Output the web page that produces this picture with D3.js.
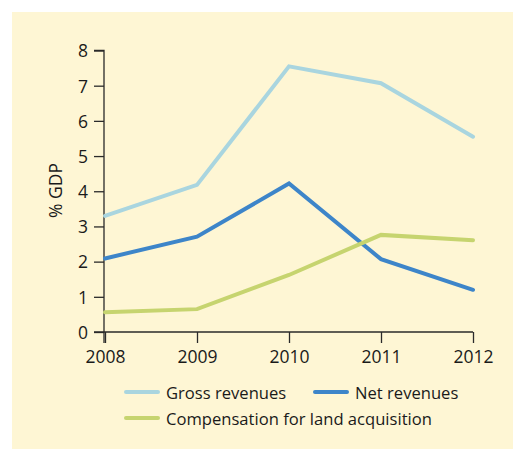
<!DOCTYPE html>
<html><head><meta charset="utf-8">
<script src="https://cdn.jsdelivr.net/npm/d3@7"></script>
<style>body{margin:0;background:#fff;}svg{display:block;}</style>
</head><body>
<script>
const years = [2008, 2009, 2010, 2011, 2012];
const grossRevenues = [3.3, 4.18, 7.55, 7.07, 5.55];
const netRevenues = [2.09, 2.71, 4.22, 2.07, 1.2];
const compensation = [0.56, 0.65, 1.62, 2.76, 2.61];
const yTicks = [0, 1, 2, 3, 4, 5, 6, 7, 8];
const seriesNames = ["Gross revenues", "Net revenues", "Compensation for land acquisition"];
const seriesColors = ["#a9d5df", "#3d85c9", "#c6d46f"];

const W = 513, H = 449;
const svg = d3.select("body").append("svg").attr("width", W).attr("height", H);
svg.append("rect").attr("x", 12).attr("y", 12).attr("width", W - 12).attr("height", H - 12).attr("fill", "#fef6d4");

const font = "'Open Sans', 'Noto Sans', sans-serif";
const x = d3.scaleLinear().domain([2008, 2012]).range([105, 473]);
const y = d3.scaleLinear().domain([0, 8]).range([332, 50.5]);

const g = svg.append("g");
// y axis
const yAxis = d3.axisLeft(y).tickValues(yTicks).tickSize(10).tickPadding(6).tickFormat(d3.format("d"));
const ya = g.append("g").attr("transform", `translate(${x(2008) - 1},0)`).call(yAxis);
ya.select(".domain").attr("d", `M-10,${y(8)}H0V${y(0) + 11}`);
// x axis
const xAxis = d3.axisBottom(x).tickValues(years).tickSize(11).tickPadding(7).tickFormat(d3.format("d"));
const xa = g.append("g").attr("transform", `translate(0,${y(0)})`).call(xAxis);
xa.select(".domain").attr("d", `M${x(2008) - 11},0H${x(2012)}`);
[ya, xa].forEach(a => {
  a.selectAll("path,line").attr("stroke", "#2a2a2a").attr("stroke-width", 1.3);
  a.selectAll("text").attr("fill", "#1a1a1a").style("font-family", font).style("font-size", "17.5px");
});
xa.selectAll("text").attr("dy", "0.72em");
ya.selectAll("text").attr("dy", "0.36em");

// y label
svg.append("text").attr("transform", `translate(62,190.5) rotate(-90)`)
  .attr("text-anchor", "middle").style("font-family", font).style("font-size", "17.5px").attr("fill", "#1a1a1a").text("% GDP");

const line = d3.line().x((d, i) => x(years[i])).y(d => y(d));
const allSeries = [grossRevenues, netRevenues, compensation];
allSeries.forEach((s, k) => {
  svg.append("path").attr("d", line(s)).attr("fill", "none").attr("stroke", seriesColors[k])
    .attr("stroke-width", 4).attr("stroke-linejoin", "miter").attr("stroke-linecap", "round");
});

// legend
const legendPos = [[126, 392], [315, 392], [126, 418]];
seriesNames.forEach((n, k) => {
  const [lx, ly] = legendPos[k];
  svg.append("line").attr("x1", lx).attr("x2", lx + 32).attr("y1", ly).attr("y2", ly)
    .attr("stroke", seriesColors[k]).attr("stroke-width", 4).attr("stroke-linecap", "round");
  svg.append("text").attr("x", lx + 40).attr("y", ly + 6.5).style("font-family", font).style("font-size", "16.6px")
    .attr("fill", "#1a1a1a").text(n);
});
</script>
</body></html>
